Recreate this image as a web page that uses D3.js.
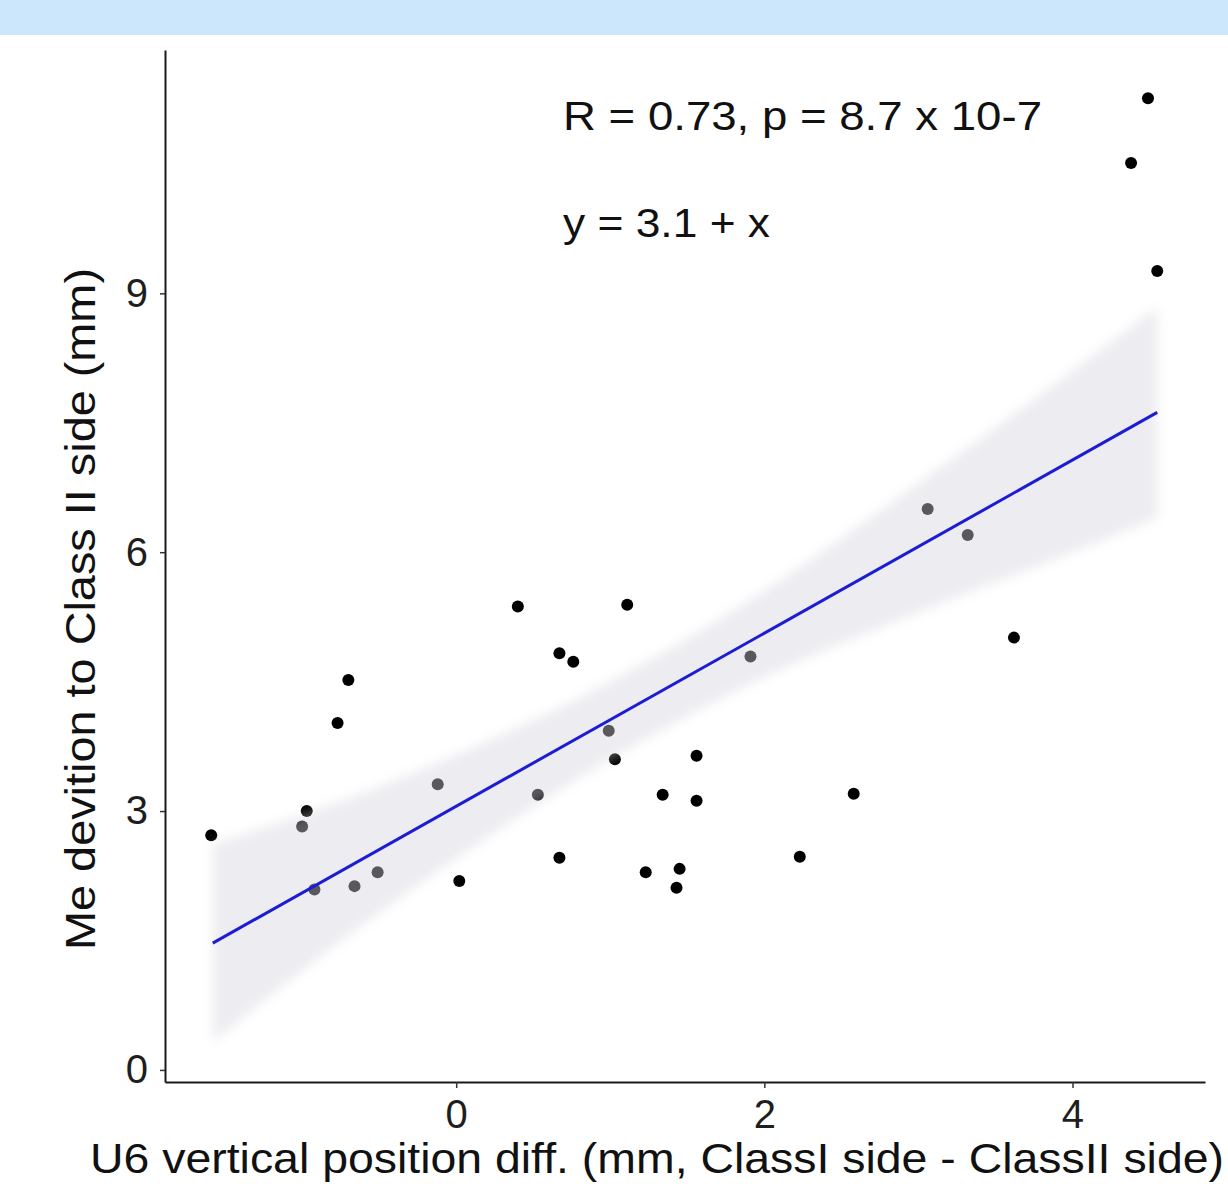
<!DOCTYPE html>
<html>
<head>
<meta charset="utf-8">
<script src="https://cdn.jsdelivr.net/npm/d3@7"></script>
<style>
  html, body { margin: 0; padding: 0; background: #fff; }
  #chart-container { width: 1228px; height: 1184px; }
  text { font-family: "Liberation Sans", Arial, sans-serif; }
</style>
</head>
<body>
<div id="chart-container"></div>
<script>
// scatter values (x = U6 diff, y = Me deviation)
const pointX = [-1.59, -1.00, -0.97, -0.92, -0.77, -0.70, -0.66, -0.51, -0.12, 0.02,
                0.40, 0.53, 0.67, 0.76, 0.67, 0.99, 1.03, 1.11, 1.23, 1.34,
                1.43, 1.45, 1.56, 1.56, 1.91, 2.23, 2.58, 3.06, 3.32, 3.62,
                4.38, 4.49, 4.55];
const pointY = [2.72, 2.82, 3.00, 2.09, 4.02, 4.52, 2.13, 2.29, 3.31, 2.19,
                5.37, 3.19, 4.83, 4.73, 2.46, 3.93, 3.60, 5.39, 2.29, 3.19,
                2.11, 2.33, 3.64, 3.12, 4.79, 2.47, 3.20, 6.50, 6.20, 5.01,
                10.51, 11.26, 9.26];

// fitted line ends and confidence band
const fitX = [-1.58, 4.55];
const fitY = [1.47, 7.62];
const bandX = [-1.58, -1.0, 0.0, 1.0, 1.5, 2.0, 3.0, 4.0, 4.55];
const bandLow = [0.32, 1.15, 2.45, 3.60, 4.10, 4.55, 5.30, 6.00, 6.40];
const bandHigh = [2.62, 2.95, 3.65, 4.50, 5.00, 5.55, 6.80, 8.10, 8.84];

const xTicks = [0, 2, 4];
const yTicks = [0, 3, 6, 9];

const statLabel = "R = 0.73,  p = 8.7 x 10-7";
const eqLabel = "y = 3.1 + x";
const xTitle = "U6 vertical position diff. (mm, ClassI side - ClassII side)";
const yTitle = "Me devition to Class II side (mm)";

function renderScatter() {
    const width = 1228, height = 1184;

    const x = d3.scaleLinear().domain([-1.89, 4.86]).range([165, 1205]);
    const y = d3.scaleLinear().domain([-0.14, 11.82]).range([1082, 50]);

    const svg = d3.select("#chart-container").append("svg")
        .attr("width", width)
        .attr("height", height)
        .attr("viewBox", [0, 0, width, height]);

    // top header strip
    svg.append("rect")
        .attr("x", 0).attr("y", 0)
        .attr("width", width).attr("height", 35)
        .attr("fill", "#cce7fc");

    const defs = svg.append("defs");
    defs.append("filter")
        .attr("id", "soft")
        .attr("x", "-10%").attr("y", "-10%")
        .attr("width", "120%").attr("height", "120%")
        .append("feGaussianBlur")
        .attr("stdDeviation", 6);

    // points
    const pts = pointX.map((d, i) => ({x: d, y: pointY[i]}));
    svg.append("g")
        .selectAll("circle")
        .data(pts)
        .join("circle")
        .attr("cx", d => x(d.x))
        .attr("cy", d => y(d.y))
        .attr("r", 6)
        .attr("fill", "#000");

    // confidence band (drawn over points, like ggplot)
    const band = bandX.map((d, i) => ({x: d, lo: bandLow[i], hi: bandHigh[i]}));
    const area = d3.area()
        .x(d => x(d.x))
        .y0(d => y(d.lo))
        .y1(d => y(d.hi))
        .curve(d3.curveMonotoneX);
    svg.append("path")
        .datum(band)
        .attr("d", area)
        .attr("fill", "#d4d4de")
        .attr("opacity", 0.42)
        .attr("filter", "url(#soft)");

    // regression line
    svg.append("path")
        .datum(fitX.map((d, i) => [d, fitY[i]]))
        .attr("d", d3.line().x(d => x(d[0])).y(d => y(d[1])))
        .attr("fill", "none")
        .attr("stroke", "#1c1cd4")
        .attr("stroke-width", 3);

    // axes
    const xAxis = svg.append("g")
        .attr("transform", `translate(0,${y.range()[0]})`)
        .call(d3.axisBottom(x).tickValues(xTicks).tickFormat(d3.format("d"))
            .tickSize(6).tickSizeOuter(0).tickPadding(12));
    const yAxis = svg.append("g")
        .attr("transform", `translate(${x.range()[0]},0)`)
        .call(d3.axisLeft(y).tickValues(yTicks).tickFormat(d3.format("d"))
            .tickSize(5).tickSizeOuter(0).tickPadding(12));

    [xAxis, yAxis].forEach(ax => {
        ax.select(".domain").attr("stroke", "#1a1a1a").attr("stroke-width", 2);
        ax.selectAll(".tick line").attr("stroke", "#333").attr("stroke-width", 1.5);
        ax.selectAll(".tick text")
            .attr("fill", "#1e1e1e")
            .style("font-size", "40px")
            .style("font-family", "'Liberation Sans', Arial, sans-serif");
    });

    // annotations
    svg.append("text")
        .attr("x", 563).attr("y", 130)
        .attr("textLength", 479)
        .attr("lengthAdjust", "spacingAndGlyphs")
        .attr("fill", "#111")
        .style("font-size", "40px")
        .text(statLabel);
    svg.append("text")
        .attr("x", 563).attr("y", 237)
        .attr("textLength", 207)
        .attr("lengthAdjust", "spacingAndGlyphs")
        .attr("fill", "#111")
        .style("font-size", "40px")
        .text(eqLabel);

    // axis titles
    svg.append("text")
        .attr("x", 90).attr("y", 1173)
        .attr("textLength", 1134)
        .attr("lengthAdjust", "spacingAndGlyphs")
        .attr("fill", "#111")
        .style("font-size", "42px")
        .text(xTitle);
    svg.append("text")
        .attr("transform", "translate(95,950) rotate(-90)")
        .attr("x", 0).attr("y", 0)
        .attr("textLength", 682)
        .attr("lengthAdjust", "spacingAndGlyphs")
        .attr("fill", "#111")
        .style("font-size", "42px")
        .text(yTitle);
}

renderScatter();
</script>
</body>
</html>
